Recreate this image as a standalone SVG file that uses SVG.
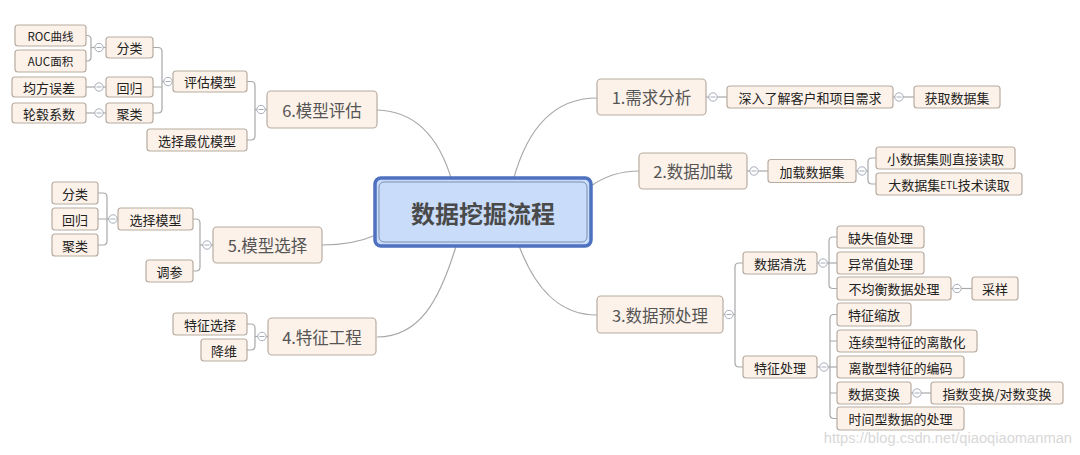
<svg xmlns="http://www.w3.org/2000/svg" width="1080" height="455" viewBox="0 0 1080 455">
<defs>
<style>
.n rect{fill:#fdf2e9;stroke:#b8aca2;stroke-width:1.2}
.n text{font-family:"Noto Sans CJK SC","Noto Sans",sans-serif;font-size:13px;fill:#222;text-anchor:middle;dominant-baseline:central}
.m text{font-size:16.5px;fill:#555}
.s text{font-size:11.5px}
.c path{fill:none;stroke:#a8a8a8;stroke-width:1.2}
.t circle{fill:#fff;stroke:#a6adbb;stroke-width:1}
.t path{stroke:#a6adbb;stroke-width:1}
</style>
</defs>
<rect width="1080" height="455" fill="#fff"/>
<g id="connectors" class="c">
<path d="M513,181 C528,125 556,98 597,98"/>
<path d="M377,110 C418,111 440,140 452,181"/>
<path d="M591,186 C605,176 620,171 639,171"/>
<path d="M376,235 C360,242 345,245 322,245"/>
<path d="M457,243 C440,300 420,337 377,337"/>
<path d="M518,243 C535,290 560,315 597,315"/>
<path d="M706,97 H727"/>
<path d="M893,97 H914"/>
<path d="M747,171 H768"/>
<path d="M856,171 H868"/>
<path d="M876,158 H872 Q868,158 868,162 V180 Q868,184 872,184 H876"/>
<path d="M723,314.5 H735"/>
<path d="M743,263 H739 Q735,263 735,267 V363 Q735,367 739,367 H743"/>
<path d="M817,263 H837"/>
<path d="M837,237 H833 Q829,237 829,241 V284.5 Q829,288.5 833,288.5 H837"/>
<path d="M951,288.5 H972"/>
<path d="M817,367 H837"/>
<path d="M837,314.5 H834 Q830,314.5 830,318.5 V414.5 Q830,418.5 834,418.5 H837 M830,341 H837 M830,393 H837"/>
<path d="M911,393 H931"/>
<path d="M267,109.5 H255"/>
<path d="M247,81.5 H251 Q255,81.5 255,85.5 V136 Q255,140 251,140 H247"/>
<path d="M173,81.5 H162"/>
<path d="M153,47.5 H158 Q162,47.5 162,51.5 V109 Q162,113 158,113 H153 M162,87 H153"/>
<path d="M106,47.5 H91"/>
<path d="M86,35.5 H87 Q91,35.5 91,39.5 V57 Q91,61 87,61 H86"/>
<path d="M86,87 H106"/>
<path d="M86,113 H106"/>
<path d="M213,245 H200"/>
<path d="M193,219 H196 Q200,219 200,223 V267 Q200,271 196,271 H193"/>
<path d="M118,219 H107"/>
<path d="M98,193 H103 Q107,193 107,197 V241 Q107,245 103,245 H98 M107,219 H98"/>
<path d="M268,336.5 H255"/>
<path d="M247,324 H251 Q255,324 255,328 V346 Q255,350 251,350 H247"/>
</g>
<g id="toggles" class="t">
<circle cx="713" cy="97" r="4.2"/><path d="M710.5,97 H715.5"/>
<circle cx="899" cy="97" r="4.2"/><path d="M896.5,97 H901.5"/>
<circle cx="754" cy="171" r="4.2"/><path d="M751.5,171 H756.5"/>
<circle cx="862" cy="171" r="4.2"/><path d="M859.5,171 H864.5"/>
<circle cx="729" cy="314.5" r="4.2"/><path d="M726.5,314.5 H731.5"/>
<circle cx="823" cy="263" r="4.2"/><path d="M820.5,263 H825.5"/>
<circle cx="957" cy="288.5" r="4.2"/><path d="M954.5,288.5 H959.5"/>
<circle cx="824" cy="367" r="4.2"/><path d="M821.5,367 H826.5"/>
<circle cx="917" cy="393" r="4.2"/><path d="M914.5,393 H919.5"/>
<circle cx="261" cy="109.5" r="4.2"/><path d="M258.5,109.5 H263.5"/>
<circle cx="168" cy="81.5" r="4.2"/><path d="M165.5,81.5 H170.5"/>
<circle cx="99" cy="47.5" r="4.2"/><path d="M96.5,47.5 H101.5"/>
<circle cx="99" cy="87" r="4.2"/><path d="M96.5,87 H101.5"/>
<circle cx="99" cy="113" r="4.2"/><path d="M96.5,113 H101.5"/>
<circle cx="207" cy="245" r="4.2"/><path d="M204.5,245 H209.5"/>
<circle cx="113" cy="219" r="4.2"/><path d="M110.5,219 H115.5"/>
<circle cx="262" cy="336.5" r="4.2"/><path d="M259.5,336.5 H264.5"/>
</g>
<g id="center">
<rect x="375" y="178" width="216" height="68" rx="6" fill="#c9dcfa" stroke="#4f72c0" stroke-width="3.5"/>
<rect x="379" y="182" width="208" height="60" rx="5" fill="none" stroke="#7d8fb0" stroke-width="1"/>
<text x="483" y="212" font-family="'Noto Sans CJK SC',sans-serif" font-size="24" font-weight="bold" fill="#4a4a4a" text-anchor="middle" dominant-baseline="central">数据挖掘流程</text>
</g>
<g id="n1" class="n m"><rect x="597" y="79" width="109" height="36" rx="4"/><text x="651.5" y="97">1.需求分析</text></g>
<g id="n1a" class="n"><rect x="727" y="86" width="166" height="22" rx="3"/><text x="810" y="97">深入了解客户和项目需求</text></g>
<g id="n1b" class="n"><rect x="914" y="86" width="86" height="22" rx="3"/><text x="957" y="97">获取数据集</text></g>
<g id="n2" class="n m"><rect x="639" y="153" width="108" height="36" rx="4"/><text x="693" y="171">2.数据加载</text></g>
<g id="n2a" class="n"><rect x="768" y="159.5" width="88" height="23" rx="3"/><text x="812" y="171">加载数据集</text></g>
<g id="n2b" class="n"><rect x="876" y="147" width="139" height="22" rx="3"/><text x="945.5" y="158">小数据集则直接读取</text></g>
<g id="n2c" class="n"><rect x="876" y="173" width="146" height="22" rx="3"/><text x="949" y="184">大数据集<tspan font-size="10">ETL</tspan>技术读取</text></g>
<g id="n3" class="n m"><rect x="597" y="296" width="126" height="37" rx="4"/><text x="660" y="314.5">3.数据预处理</text></g>
<g id="n3a" class="n"><rect x="743" y="252" width="74" height="22" rx="3"/><text x="780" y="263">数据清洗</text></g>
<g id="n3a1" class="n"><rect x="837" y="226" width="87" height="22" rx="3"/><text x="880.5" y="237">缺失值处理</text></g>
<g id="n3a2" class="n"><rect x="837" y="252" width="87" height="22" rx="3"/><text x="880.5" y="263">异常值处理</text></g>
<g id="n3a3" class="n"><rect x="837" y="277" width="114" height="23" rx="3"/><text x="894" y="288.5">不均衡数据处理</text></g>
<g id="n3a3a" class="n"><rect x="972" y="277" width="46" height="23" rx="3"/><text x="995" y="288.5">采样</text></g>
<g id="n3b" class="n"><rect x="743" y="356" width="74" height="22" rx="3"/><text x="780" y="367">特征处理</text></g>
<g id="n3b1" class="n"><rect x="837" y="303" width="74" height="23" rx="3"/><text x="874" y="314.5">特征缩放</text></g>
<g id="n3b2" class="n"><rect x="837" y="330" width="140" height="22" rx="3"/><text x="907" y="341">连续型特征的离散化</text></g>
<g id="n3b3" class="n"><rect x="837" y="356" width="127" height="22" rx="3"/><text x="900.5" y="367">离散型特征的编码</text></g>
<g id="n3b4" class="n"><rect x="837" y="382" width="74" height="22" rx="3"/><text x="874" y="393">数据变换</text></g>
<g id="n3b4a" class="n"><rect x="931" y="382" width="132" height="22" rx="3"/><text x="997" y="393">指数变换/对数变换</text></g>
<g id="n3b5" class="n"><rect x="837" y="407" width="127" height="23" rx="3"/><text x="900.5" y="418.5">时间型数据的处理</text></g>
<g id="n6" class="n m"><rect x="267" y="91" width="110" height="37" rx="4"/><text x="322" y="109.5">6.模型评估</text></g>
<g id="n6a" class="n"><rect x="173" y="71" width="74" height="21" rx="3"/><text x="210" y="81.5">评估模型</text></g>
<g id="n6b" class="n"><rect x="147" y="129" width="100" height="22" rx="3"/><text x="197" y="140">选择最优模型</text></g>
<g id="n6a1" class="n"><rect x="106" y="37" width="47" height="21" rx="3"/><text x="129.5" y="47.5">分类</text></g>
<g id="n6a2" class="n"><rect x="106" y="77" width="47" height="20" rx="3"/><text x="129.5" y="87">回归</text></g>
<g id="n6a3" class="n"><rect x="106" y="103" width="47" height="20" rx="3"/><text x="129.5" y="113">聚类</text></g>
<g id="n6a1a" class="n s"><rect x="15" y="25" width="71" height="21" rx="3"/><text x="50.5" y="35.5">ROC曲线</text></g>
<g id="n6a1b" class="n s"><rect x="15" y="50" width="71" height="22" rx="3"/><text x="50.5" y="61">AUC面积</text></g>
<g id="n6a2a" class="n"><rect x="12" y="77" width="74" height="20" rx="3"/><text x="49" y="87">均方误差</text></g>
<g id="n6a3a" class="n"><rect x="12" y="103" width="74" height="20" rx="3"/><text x="49" y="113">轮毂系数</text></g>
<g id="n5" class="n m"><rect x="213" y="227" width="109" height="36" rx="4"/><text x="267.5" y="245">5.模型选择</text></g>
<g id="n5a" class="n"><rect x="118" y="208" width="75" height="22" rx="3"/><text x="155.5" y="219">选择模型</text></g>
<g id="n5b" class="n"><rect x="146" y="260" width="47" height="22" rx="3"/><text x="169.5" y="271">调参</text></g>
<g id="n5a1" class="n"><rect x="52" y="182" width="46" height="22" rx="3"/><text x="75" y="193">分类</text></g>
<g id="n5a2" class="n"><rect x="52" y="208" width="46" height="22" rx="3"/><text x="75" y="219">回归</text></g>
<g id="n5a3" class="n"><rect x="52" y="234" width="46" height="22" rx="3"/><text x="75" y="245">聚类</text></g>
<g id="n4" class="n m"><rect x="268" y="318" width="108" height="37" rx="4"/><text x="322" y="336.5">4.特征工程</text></g>
<g id="n4a" class="n"><rect x="173" y="313" width="74" height="22" rx="3"/><text x="210" y="324">特征选择</text></g>
<g id="n4b" class="n"><rect x="201" y="339" width="46" height="22" rx="3"/><text x="224" y="350">降维</text></g>
<text x="1072" y="443" font-family="'Liberation Sans',sans-serif" font-size="14.7" fill="#d8d8d8" text-anchor="end">https://blog.csdn.net/qiaoqiaomanman</text>
</svg>
